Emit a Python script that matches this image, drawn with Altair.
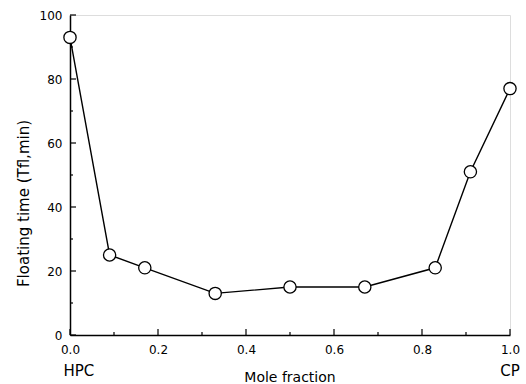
import altair as alt
import pandas as pd

mole = [0.0, 0.09, 0.17, 0.33, 0.5, 0.67, 0.83, 0.91, 1.0]
ftime = [93, 25, 21, 13, 15, 15, 21, 51, 77]
x_major = [0.0, 0.2, 0.4, 0.6, 0.8, 1.0]
x_minor = [0.1, 0.3, 0.5, 0.7, 0.9]
y_major = [0, 20, 40, 60, 80, 100]
y_minor = [10, 30, 50, 70, 90]
end_labels = ["HPC", "CP"]
end_pos = [0.02, 1.0]
x_title = "Mole fraction"
y_title = "Floating time (Tfl,min)"

W, H = 440, 320
df = pd.DataFrame({"x": mole, "y": ftime})

xs = alt.Scale(domain=[0, 1], nice=False, zero=False)
ys = alt.Scale(domain=[0, 100], nice=False)

tfont = "DejaVu Sans"

xaxis = alt.Axis(values=x_major, format=".1f", tickSize=0, labelPadding=9,
                 labelFont=tfont, labelFontSize=12, labelFlush=False,
                 labelColor="black", domainColor="black", domainWidth=1.5,
                 title=None, grid=False)
yaxis = alt.Axis(values=y_major, format="d", tickSize=0, labelPadding=8,
                 labelFont=tfont, labelFontSize=12, labelColor="black",
                 labelFlush=False,
                 domainColor="black", domainWidth=1.5,
                 title=y_title, titleFont=tfont, titleFontSize=15,
                 titleFontWeight="normal", titlePadding=8, titleColor="black",
                 titleY=188, grid=False)

line = alt.Chart(df).mark_line(color="black", strokeWidth=1.4).encode(
    x=alt.X("x:Q", scale=xs, axis=xaxis),
    y=alt.Y("y:Q", scale=ys, axis=yaxis),
)
pts = alt.Chart(df).mark_point(shape="circle", size=150, filled=True, fill="white",
                               stroke="black", strokeWidth=1.3, opacity=1).encode(
    x=alt.X("x:Q", scale=xs), y=alt.Y("y:Q", scale=ys))

xmaj = alt.Chart(pd.DataFrame({"v": x_major})).mark_rule(color="black", strokeWidth=1.2).encode(
    x=alt.X("v:Q", scale=xs), y=alt.value(H), y2=alt.value(H - 6))
xmin = alt.Chart(pd.DataFrame({"v": x_minor})).mark_rule(color="black", strokeWidth=1.2).encode(
    x=alt.X("v:Q", scale=xs), y=alt.value(H), y2=alt.value(H - 3))
ymaj = alt.Chart(pd.DataFrame({"v": y_major})).mark_rule(color="black", strokeWidth=1.2).encode(
    y=alt.Y("v:Q", scale=ys), x=alt.value(0), x2=alt.value(6))
ymin = alt.Chart(pd.DataFrame({"v": y_minor})).mark_rule(color="black", strokeWidth=1.2).encode(
    y=alt.Y("v:Q", scale=ys), x=alt.value(0), x2=alt.value(3))

ends = alt.Chart(pd.DataFrame({"x": end_pos, "t": end_labels})).mark_text(
    font=tfont, fontSize=15, baseline="middle", color="black").encode(
    x=alt.X("x:Q", scale=xs), y=alt.value(H + 36), text="t:N")

xt = alt.Chart(pd.DataFrame({"x": [0.5], "t": [x_title]})).mark_text(
    font=tfont, fontSize=14, baseline="middle", color="black").encode(
    x=alt.X("x:Q", scale=xs), y=alt.value(H + 43), text="t:N")

chart = alt.layer(line, pts, xmaj, xmin, ymaj, ymin, ends, xt).properties(
    width=W, height=H, autosize="none",
    padding={"left": 70, "top": 15, "right": 16, "bottom": 49},
).configure_view(stroke=None).configure(background="white")

chart.save("out.html", embed_options={"renderer": "svg", "actions": False})
